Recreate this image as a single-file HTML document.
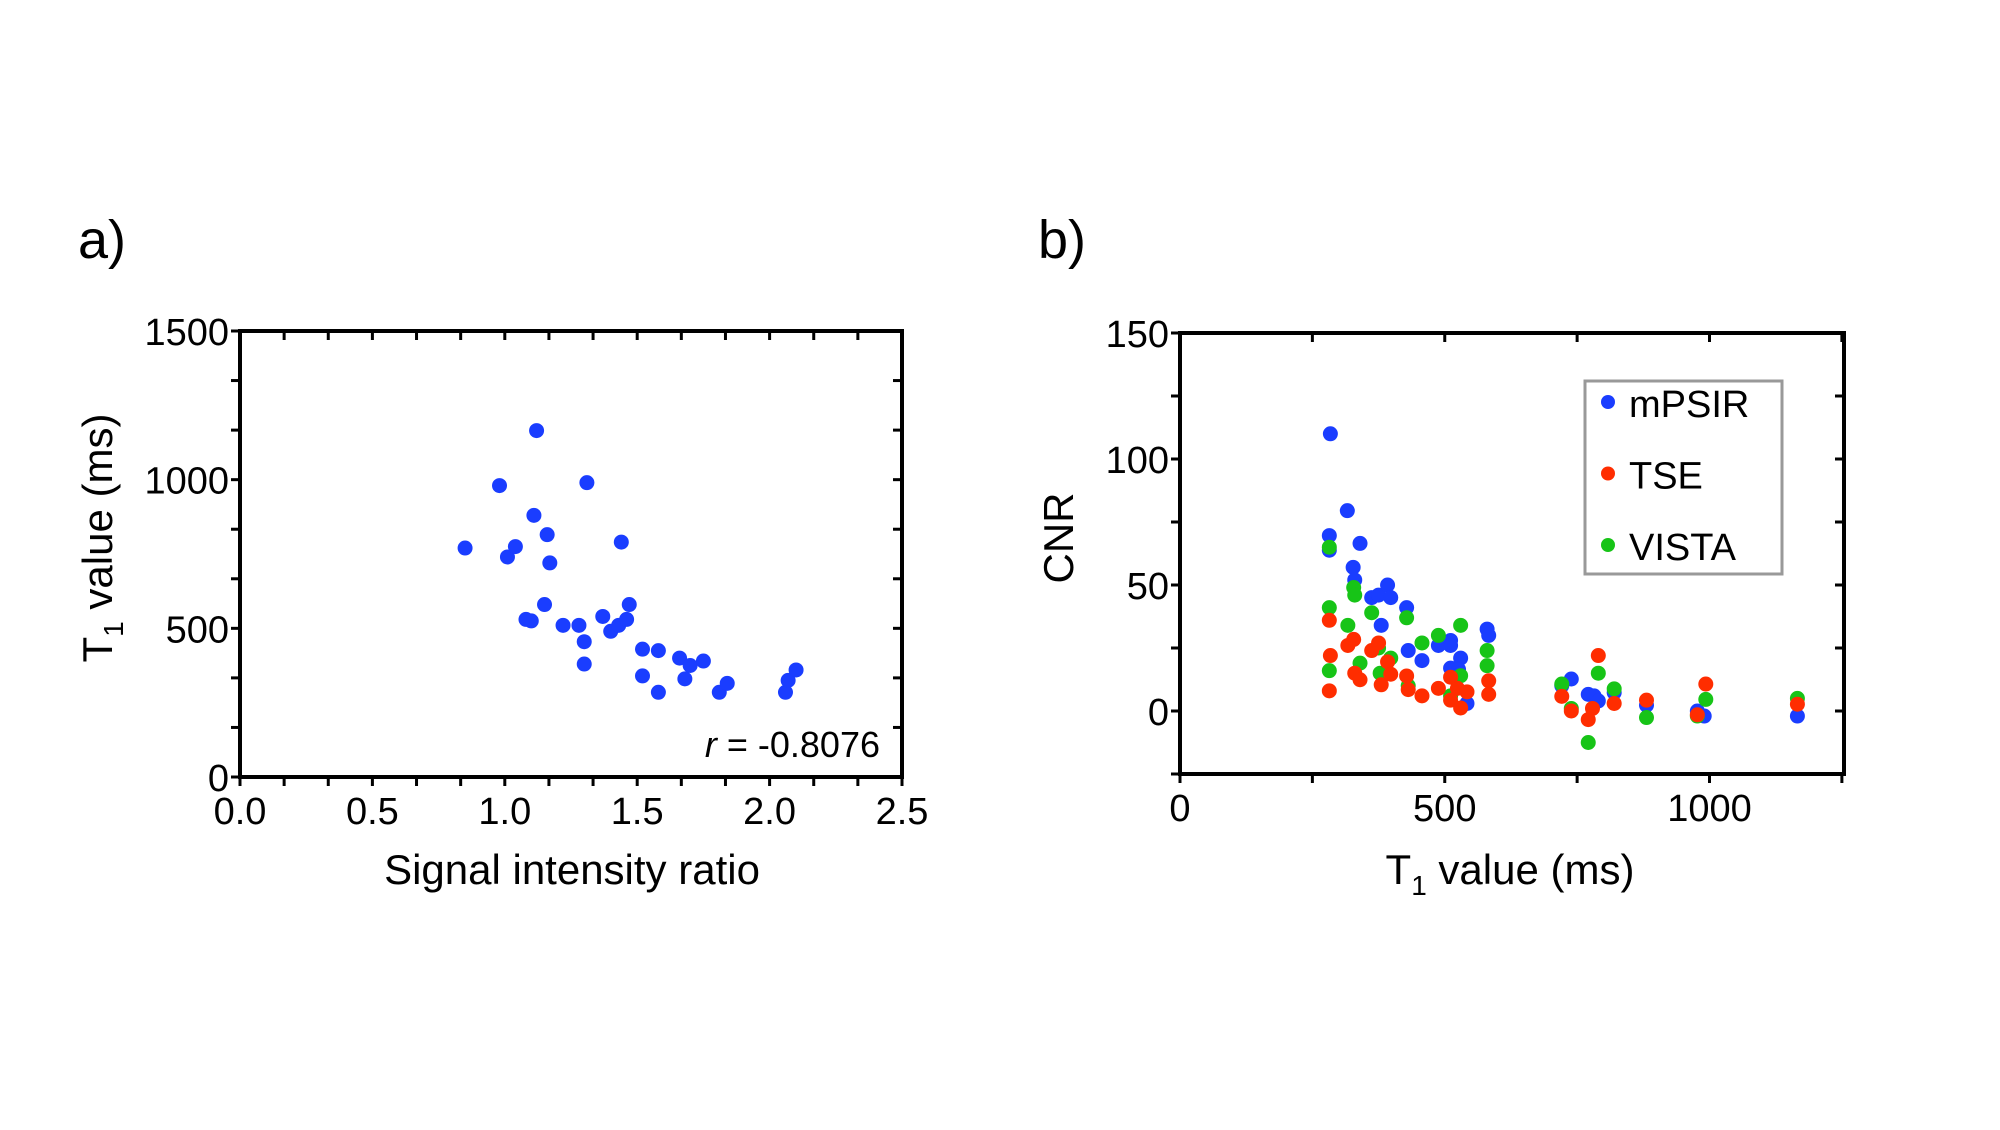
<!DOCTYPE html>
<html><head><meta charset="utf-8"><style>
html,body{margin:0;padding:0;background:#fff;}
svg text{font-family:"Liberation Sans",Arial,sans-serif;fill:#000;}
</style></head><body>
<svg id="fig" width="2000" height="1125" viewBox="0 0 2000 1125" xmlns="http://www.w3.org/2000/svg">
<rect width="2000" height="1125" fill="#fff"/>
<text x="78" y="258" font-size="54">a)</text>
<text x="1038" y="258" font-size="54">b)</text>
<g id="pa"></g>
<g id="pb"></g>
</svg>
<script>
// Panel a data
const aSIR = [0.85,0.98,1.01,1.04,1.08,1.10,1.11,1.12,1.15,1.16,1.17,1.22,1.28,1.30,1.30,1.31,1.37,1.40,1.43,1.44,1.46,1.47,1.52,1.52,1.58,1.58,1.66,1.68,1.70,1.75,1.81,1.84,2.06,2.07,2.10];
const aT1 = [770,980,740,775,530,525,880,1165,580,815,720,510,510,455,380,990,540,490,510,790,530,580,430,340,425,285,400,330,375,390,285,315,285,325,360];
const aXTicks = ["0.0","0.5","1.0","1.5","2.0","2.5"];
const aYTicks = ["0","500","1000","1500"];
// Panel b data
const mpsirT1 = [284,316,282,282,340,327,330,362,375,392,398,428,380,431,457,488,511,511,511,530,526,542,580,583,721,739,771,782,790,820,881,977,990,1166];
const mpsirCNR = [110,79.5,69.6,63.8,66.5,57,52,45,46,50,45,41,34,24,20,26,28,26,17,21,16.5,3,32.5,30,10,12.7,6.6,6,4,7.3,2.3,0,-2,-2];
const tseT1 = [282,284,282,317,328,330,340,362,375,380,392,398,428,431,457,488,511,511,524,530,542,583,583,721,739,771,779,790,820,881,977,993,1166];
const tseCNR = [36,22,8,26,28.4,15,12.4,24,27,10.4,19.5,14.6,13.9,8.5,6,9,13.4,4.3,9,1.2,7.6,12,6.6,5.8,0,-3.4,1,22,3,4.3,-1.5,10.7,2.7];
const vistaT1 = [282,282,282,317,328,330,340,362,375,378,398,428,431,457,488,511,530,530,580,580,721,739,771,790,820,881,977,993,1166];
const vistaCNR = [65,41,16,34,49,46,19,39,25,15,21,37,10,27,30,6,34,14,24,18,10.7,1,-12.5,15,8.8,-2.6,-2,4.6,5];
const bXTicks = ["0","500","1000"];
const bYTicks = ["0","50","100","150"];
const seriesNames = ["mPSIR","TSE","VISTA"];

const NS="http://www.w3.org/2000/svg";
function mk(parent,tag,attrs,txt){const e=document.createElementNS(NS,tag);for(const k in attrs)e.setAttribute(k,attrs[k]);if(txt!==undefined)e.textContent=txt;parent.appendChild(e);return e;}

function axes(g,L,R,T,B,xmin,xmax,ymin,ymax,xMinorStep,yMinorStep,xt,yt,name){
  const sx=v=>L+(v-xmin)/(xmax-xmin)*(R-L);
  const sy=v=>B-(v-ymin)/(ymax-ymin)*(B-T);
  const fr=mk(g,'rect',{x:L,y:T,width:R-L,height:B-T,fill:'none',stroke:'#000','stroke-width':4});
  
  
  for(let v=xmin;v<=xmax+1e-9;v+=xMinorStep){const x=sx(v);
    mk(g,'line',{x1:x,y1:B,x2:x,y2:B+9,stroke:'#000','stroke-width':3});
    if(v>xmin+1e-9&&v<xmax-1e-9)mk(g,'line',{x1:x,y1:T,x2:x,y2:T+9,stroke:'#000','stroke-width':3});}
  for(let v=ymin;v<=ymax+1e-9;v+=yMinorStep){const y=sy(v);
    mk(g,'line',{x1:L-9,y1:y,x2:L,y2:y,stroke:'#000','stroke-width':3});
    if(v>ymin+1e-9&&v<ymax-1e-9)mk(g,'line',{x1:R-9,y1:y,x2:R,y2:y,stroke:'#000','stroke-width':3});}
  xt.forEach(t=>{const e=mk(g,'text',{x:sx(parseFloat(t)),y:B+47,'font-size':38,'text-anchor':'middle'},t);
    
    });
  yt.forEach(t=>{const e=mk(g,'text',{x:L-11,y:sy(parseFloat(t))+14,'font-size':38,'text-anchor':'end'},t);
    
    });
  return {sx,sy};
}
function dots(g,xs,ys,sx,sy,color,name){
  xs.forEach((x,i)=>{const c=mk(g,'circle',{cx:sx(x),cy:sy(ys[i]),r:7.5,fill:color});
    
    });
}
// Panel a
const ga=document.getElementById('pa');
const A=axes(ga,240,902,331,777,0,2.5,0,1500,2.5/15,1500/9,aXTicks,aYTicks,'panel-a');
dots(ga,aSIR,aT1,A.sx,A.sy,'#1a3dff','point-a');
let t=mk(ga,'text',{x:572,y:884,'font-size':42,'text-anchor':'middle'},'Signal intensity ratio');


t=mk(ga,'text',{transform:'translate(112,538) rotate(-90)','font-size':42,'text-anchor':'middle'});


t.innerHTML='T<tspan font-size="28" dy="11">1</tspan><tspan dy="-11"> value (ms)</tspan>';
t=mk(ga,'text',{x:880,y:757,'font-size':36,'text-anchor':'end'});


t.innerHTML='<tspan font-style="italic">r</tspan> = -0.8076';
// Panel b
const gb=document.getElementById('pb');
const B=axes(gb,1180,1844,333,774,0,1254,-25,150,250,25,bXTicks,bYTicks,'panel-b');
dots(gb,mpsirT1,mpsirCNR,B.sx,B.sy,'#1a3dff','point-mpsir');
dots(gb,vistaT1,vistaCNR,B.sx,B.sy,'#17c417','point-vista');
dots(gb,tseT1,tseCNR,B.sx,B.sy,'#ff2d00','point-tse');
t=mk(gb,'text',{x:1510,y:884,'font-size':42,'text-anchor':'middle'});


t.innerHTML='T<tspan font-size="28" dy="11">1</tspan><tspan dy="-11"> value (ms)</tspan>';
t=mk(gb,'text',{transform:'translate(1073,538) rotate(-90)','font-size':42,'text-anchor':'middle'},'CNR');


const lg=mk(gb,'g',{});


mk(lg,'rect',{x:1585,y:381,width:197,height:193,fill:'#fff',stroke:'#999','stroke-width':3});
const lc=['#1a3dff','#ff2d00','#17c417'];
seriesNames.forEach((n,i)=>{const y=402+i*71.5;
  const e=mk(lg,'g',{});
  
  
  mk(e,'circle',{cx:1608,cy:y,r:7,fill:lc[i]});
  mk(e,'text',{x:1629,y:y+15,'font-size':38},n);});
</script>
</body></html>
